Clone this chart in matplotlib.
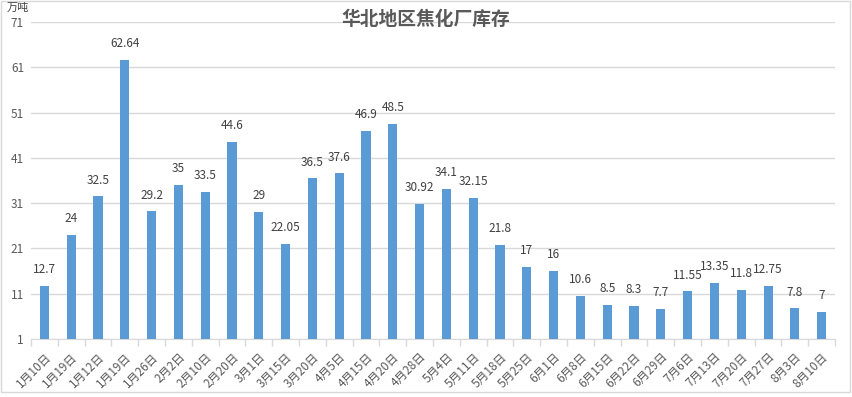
import matplotlib
matplotlib.use('Agg')
import matplotlib.pyplot as plt
import numpy as np

plt.rcParams['font.family'] = ['Noto Sans CJK SC', 'DejaVu Sans']

# dates and stock levels (万吨)
dates = ['1月10日', '1月19日', '1月12日', '1月19日', '1月26日', '2月2日', '2月10日', '2月20日',
         '3月1日', '3月15日', '3月20日', '4月5日', '4月15日', '4月20日', '4月28日', '5月4日',
         '5月11日', '5月18日', '5月25日', '6月1日', '6月8日', '6月15日', '6月22日', '6月29日',
         '7月6日', '7月13日', '7月20日', '7月27日', '8月3日', '8月10日']
stock = [12.7, 24, 32.5, 62.64, 29.2, 35, 33.5, 44.6, 29, 22.05, 36.5, 37.6, 46.9, 48.5,
         30.92, 34.1, 32.15, 21.8, 17, 16, 10.6, 8.5, 8.3, 7.7, 11.55, 13.35, 11.8, 12.75, 7.8, 7]
stock_labels = ['12.7', '24', '32.5', '62.64', '29.2', '35', '33.5', '44.6', '29', '22.05',
                '36.5', '37.6', '46.9', '48.5', '30.92', '34.1', '32.15', '21.8', '17', '16',
                '10.6', '8.5', '8.3', '7.7', '11.55', '13.35', '11.8', '12.75', '7.8', '7']
yticks = list(range(1, 72, 10))

grid_col = '#d9d9d9'
text_col = '#595959'

fig = plt.figure(figsize=(8.53, 3.97), dpi=100)
ax = fig.add_axes([0.0363, 0.146, 0.9427, 0.7986])

x = np.arange(len(stock))
ax.bar(x, [v - 1 for v in stock], bottom=1, width=0.34, color='#5B9BD5', zorder=3)

for xi, v, lab in zip(x, stock, stock_labels):
    ax.annotate(lab, (xi, v), xytext=(0, 7), textcoords='offset points',
                ha='center', va='bottom', fontsize=8.5, color='#404040')

ax.set_xlim(-0.5, len(stock) - 0.5)
ax.set_ylim(1, 71)
ax.set_yticks(yticks)
ax.set_yticklabels([str(t) for t in yticks], fontsize=8.5, color=text_col)
ax.yaxis.grid(True, color=grid_col, linewidth=1, zorder=0)
ax.tick_params(axis='y', length=0, pad=5)

ax.set_xticks(x)
ax.set_xticklabels(dates, rotation=45, ha='right', rotation_mode='anchor',
                   fontsize=8.5, color=text_col)
ax.set_xticks(np.arange(-0.5, len(stock), 1), minor=True)
ax.tick_params(axis='x', which='major', length=0, pad=8)
ax.tick_params(axis='x', which='minor', length=5, color=grid_col, width=1)

for s in ['top', 'right', 'left']:
    ax.spines[s].set_visible(False)
ax.spines['bottom'].set_color(grid_col)

fig.text(0.4995, 0.95, '华北地区焦化厂库存', ha='center', va='center',
         fontsize=13.5, fontweight='bold', color=text_col)
fig.text(0.008, 0.993, '万吨', ha='left', va='top', fontsize=8, color='#404040')

# light border around the chart
fig.patches.append(plt.Rectangle((0.001, 0.012), 0.996, 0.985, transform=fig.transFigure,
                                 fill=False, edgecolor=grid_col, linewidth=1))

fig.savefig('out.png', dpi=100)
